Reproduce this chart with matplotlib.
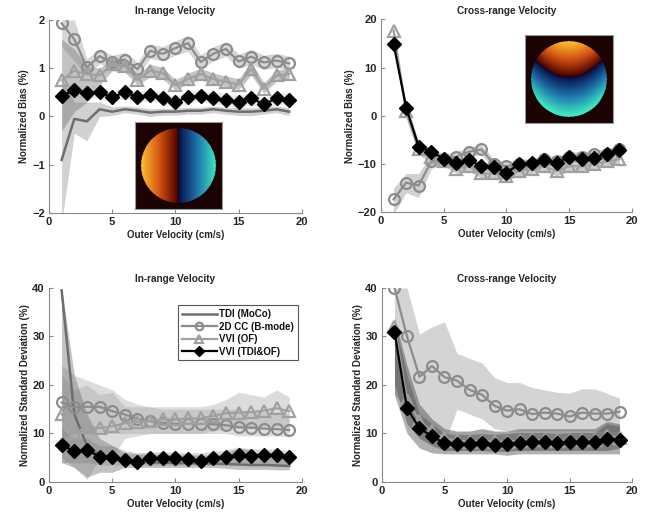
import matplotlib.pyplot as plt
import numpy as np
from matplotlib.colors import LinearSegmentedColormap

plt.rcParams['font.family'] = ['Liberation Sans', 'DejaVu Sans']
plt.rcParams['font.weight'] = 'bold'

x = list(range(1, 20))

# --- in-range bias
ir_bias_tdi = [-0.9, -0.05, -0.1, 0.15, 0.1, 0.15, 0.12, 0.08, 0.1, 0.1, 0.12, 0.12, 0.15, 0.12, 0.1, 0.1, 0.12, 0.15, 0.1]
ir_bias_tdi_lo = [-2.2, -0.35, -0.5, 0.0, 0.02, 0.08, 0.05, 0.0, 0.03, 0.03, 0.05, 0.05, 0.08, 0.05, 0.02, 0.02, 0.05, 0.08, 0.02]
ir_bias_tdi_hi = [0.8, 0.3, 0.3, 0.3, 0.2, 0.22, 0.2, 0.16, 0.17, 0.17, 0.19, 0.19, 0.22, 0.19, 0.18, 0.18, 0.19, 0.22, 0.18]
ir_bias_cc = [1.93, 1.6, 1.02, 1.25, 1.12, 1.18, 0.98, 1.36, 1.3, 1.42, 1.52, 1.13, 1.3, 1.4, 1.14, 1.24, 1.12, 1.16, 1.1]
ir_bias_cc_lo = [1.45, 1.15, 0.85, 1.1, 0.97, 1.03, 0.83, 1.2, 1.15, 1.27, 1.35, 0.98, 1.15, 1.25, 0.99, 1.09, 0.97, 1.01, 0.95]
ir_bias_cc_hi = [2.0, 2.0, 1.2, 1.4, 1.27, 1.33, 1.13, 1.5, 1.45, 1.57, 1.68, 1.28, 1.45, 1.55, 1.29, 1.39, 1.27, 1.31, 1.25]
ir_bias_of = [0.75, 0.95, 0.88, 0.85, 1.08, 1.05, 0.76, 0.95, 0.9, 0.65, 0.78, 0.88, 0.78, 0.72, 0.66, 0.99, 0.58, 0.85, 0.88]
ir_bias_of_lo = [-0.3, 0.1, 0.3, 0.65, 0.95, 0.92, 0.65, 0.82, 0.78, 0.55, 0.68, 0.76, 0.66, 0.62, 0.56, 0.86, 0.48, 0.74, 0.76]
ir_bias_of_hi = [1.6, 1.4, 1.05, 1.0, 1.2, 1.18, 0.88, 1.08, 1.02, 0.76, 0.9, 1.0, 0.9, 0.84, 0.78, 1.12, 0.7, 0.96, 1.0]
ir_bias_vvi = [0.42, 0.55, 0.48, 0.5, 0.4, 0.5, 0.4, 0.45, 0.38, 0.3, 0.4, 0.43, 0.38, 0.35, 0.3, 0.38, 0.25, 0.38, 0.35]
ir_bias_vvi_lo = [0.3, 0.43, 0.36, 0.38, 0.28, 0.38, 0.28, 0.33, 0.26, 0.18, 0.28, 0.31, 0.26, 0.23, 0.18, 0.26, 0.13, 0.26, 0.23]
ir_bias_vvi_hi = [0.55, 0.67, 0.6, 0.62, 0.52, 0.62, 0.52, 0.57, 0.5, 0.42, 0.52, 0.55, 0.5, 0.47, 0.42, 0.5, 0.37, 0.5, 0.47]

# --- cross-range bias
cr_bias_cc = [-17.4, -13.9, -14.5, -9.5, -9.0, -8.5, -7.5, -7.0, -10.0, -10.5, -10.0, -10.0, -9.0, -9.5, -8.5, -8.5, -8.0, -8.0, -7.0]
cr_bias_cc_lo = [-20.5, -16.0, -17.0, -11.0, -10.0, -9.5, -8.5, -8.0, -11.0, -11.5, -11.0, -11.0, -10.0, -10.5, -9.5, -9.5, -9.0, -9.0, -8.0]
cr_bias_cc_hi = [-15.0, -12.0, -12.0, -8.0, -8.0, -7.5, -6.5, -6.0, -9.0, -9.5, -9.0, -9.0, -8.0, -8.5, -7.5, -7.5, -7.0, -7.0, -6.0]
cr_bias_of = [17.7, 0.9, -7.0, -8.5, -9.5, -11.0, -10.5, -12.0, -12.0, -12.5, -11.5, -11.0, -10.5, -11.5, -10.5, -10.5, -10.0, -9.5, -9.0]
cr_bias_of_lo = [16.5, -0.5, -8.2, -9.5, -10.5, -12.0, -11.5, -13.0, -13.0, -13.5, -12.5, -12.0, -11.5, -12.5, -11.5, -11.5, -11.0, -10.5, -10.0]
cr_bias_of_hi = [18.8, 2.2, -5.5, -7.5, -8.5, -10.0, -9.5, -11.0, -11.0, -11.5, -10.5, -10.0, -9.5, -10.5, -9.5, -9.5, -9.0, -8.5, -8.0]
cr_bias_vvi = [15.0, 1.7, -6.4, -7.5, -8.9, -9.9, -9.3, -10.4, -10.7, -11.8, -10.1, -9.9, -9.3, -9.8, -8.6, -8.9, -8.8, -7.9, -7.1]
cr_bias_vvi_lo = [14.0, 0.7, -7.2, -8.3, -9.7, -10.7, -10.1, -11.2, -11.5, -12.6, -10.9, -10.7, -10.1, -10.6, -9.4, -9.7, -9.6, -8.7, -7.9]
cr_bias_vvi_hi = [16.0, 2.7, -5.6, -6.7, -8.1, -9.1, -8.5, -9.6, -9.9, -11.0, -9.3, -9.1, -8.5, -9.0, -7.8, -8.1, -8.0, -7.1, -6.3]

# --- in-range standard deviation
ir_std_tdi = [39.5, 14.0, 7.5, 5.5, 4.8, 4.3, 4.2, 4.0, 4.0, 3.9, 3.9, 3.8, 3.8, 3.7, 3.6, 3.5, 3.5, 3.4, 3.3]
ir_std_tdi_lo = [4.0, 3.0, 1.0, 2.0, 2.0, 3.0, 3.0, 3.0, 3.0, 3.0, 3.0, 3.0, 3.0, 2.8, 2.6, 2.6, 2.6, 2.5, 2.5]
ir_std_tdi_hi = [40.0, 22.0, 14.0, 9.0, 7.5, 6.0, 5.8, 5.7, 5.7, 5.6, 5.6, 5.5, 5.5, 6.0, 7.0, 6.5, 5.5, 5.5, 5.4]
ir_std_cc = [16.4, 15.4, 15.5, 15.5, 14.6, 13.9, 13.0, 12.5, 12.2, 12.0, 12.0, 12.0, 11.9, 11.7, 11.3, 11.2, 11.0, 10.9, 10.7]
ir_std_cc_lo = [9.0, 10.0, 10.0, 10.0, 10.0, 10.0, 10.0, 10.0, 10.0, 10.0, 10.0, 10.0, 10.0, 10.0, 9.5, 9.5, 9.5, 9.5, 9.3]
ir_std_cc_hi = [24.0, 22.0, 21.0, 20.0, 19.0, 17.0, 16.0, 15.5, 15.0, 15.0, 15.0, 15.0, 15.0, 15.0, 15.0, 14.5, 14.5, 14.5, 14.0]
ir_std_of = [14.0, 10.0, 11.4, 11.1, 11.5, 12.1, 12.4, 12.6, 12.9, 12.9, 13.1, 13.1, 13.6, 14.2, 14.3, 14.4, 14.7, 15.2, 14.6]
ir_std_of_lo = [5.0, 3.0, 0.5, 5.0, 5.0, 9.0, 9.5, 10.0, 10.0, 10.0, 10.0, 10.0, 10.5, 11.0, 11.0, 11.0, 11.5, 11.5, 11.0]
ir_std_of_hi = [22.0, 19.0, 20.0, 18.0, 18.5, 15.5, 15.5, 15.5, 15.5, 15.5, 15.5, 15.5, 16.0, 17.0, 18.5, 18.0, 17.5, 19.0, 17.5]
ir_std_vvi = [7.7, 6.3, 6.6, 5.2, 5.2, 4.5, 4.2, 4.9, 4.9, 4.9, 4.7, 4.4, 4.9, 5.2, 5.6, 5.4, 5.6, 5.6, 5.1]
ir_std_vvi_lo = [4.0, 4.0, 4.0, 3.5, 3.5, 3.5, 3.5, 3.5, 3.5, 3.5, 3.5, 3.5, 3.5, 3.5, 3.5, 3.5, 3.5, 3.5, 3.5]
ir_std_vvi_hi = [11.0, 9.0, 9.0, 7.5, 7.5, 6.5, 6.0, 6.2, 6.2, 6.2, 6.0, 6.0, 6.3, 6.6, 7.2, 6.8, 6.8, 6.8, 6.4]

# --- cross-range standard deviation
cr_std_cc = [40.0, 30.0, 21.7, 23.9, 21.6, 20.9, 19.0, 18.0, 15.7, 14.7, 15.0, 14.0, 14.3, 14.1, 13.5, 14.3, 14.1, 14.1, 14.5]
cr_std_cc_lo = [18.0, 15.0, 13.0, 11.0, 8.0, 15.0, 14.0, 13.0, 11.0, 10.5, 10.5, 10.5, 10.5, 10.5, 10.5, 10.5, 10.5, 10.5, 10.5]
cr_std_cc_hi = [40.0, 40.0, 30.5, 32.0, 33.0, 26.5, 25.5, 24.5, 21.5, 20.5, 20.5, 19.5, 19.0, 18.5, 18.3, 19.2, 19.2, 18.3, 17.3]
cr_std_of = [32.0, 17.0, 12.5, 10.5, 9.0, 8.5, 8.3, 8.5, 8.3, 8.3, 8.5, 8.6, 8.6, 8.5, 8.6, 8.6, 8.6, 9.5, 9.0]
cr_std_of_lo = [20.0, 12.0, 9.0, 7.5, 6.5, 6.5, 6.5, 6.5, 6.3, 6.3, 6.5, 6.5, 6.5, 6.5, 6.5, 6.5, 6.5, 6.5, 7.0]
cr_std_of_hi = [34.0, 24.0, 16.0, 13.0, 11.0, 10.5, 10.5, 11.0, 10.5, 10.5, 11.0, 11.0, 11.0, 11.0, 11.0, 11.0, 11.0, 12.5, 12.0]
cr_std_vvi = [31.0, 15.2, 11.1, 9.4, 8.0, 7.8, 7.8, 8.0, 7.7, 7.8, 8.1, 8.2, 8.2, 8.0, 8.2, 8.2, 8.2, 8.8, 8.7]
cr_std_vvi_lo = [18.0, 10.0, 7.0, 6.0, 5.8, 5.8, 5.8, 5.8, 5.8, 5.5, 5.8, 5.8, 5.8, 5.8, 5.8, 5.8, 5.8, 5.8, 5.8]
cr_std_vvi_hi = [33.0, 22.0, 14.0, 12.0, 10.0, 9.8, 9.8, 10.0, 9.8, 10.0, 10.2, 10.2, 10.2, 10.0, 10.2, 10.2, 10.2, 12.0, 11.5]

labels = ['TDI (MoCo)', '2D CC (B-mode)', 'VVI (OF)', 'VVI (TDI&OF)']
c_tdi = '#6e6e6e'
c_cc = '#8c8c8c'
c_of = '#a0a0a0'
c_vvi = '#000000'
txt = '#262626'


def style(ax, ylim, yticks, ylabel, title):
    ax.set_xlim(0, 20)
    ax.set_ylim(*ylim)
    ax.set_xticks([0, 5, 10, 15, 20])
    ax.set_yticks(yticks)
    ax.spines['top'].set_visible(False)
    ax.spines['right'].set_visible(False)
    for s in ['left', 'bottom']:
        ax.spines[s].set_color('#8a8a8a')
        ax.spines[s].set_linewidth(0.8)
    ax.tick_params(direction='in', length=3, width=0.8, color='#8a8a8a',
                   labelsize=8, labelcolor=txt, pad=3)
    for lab in ax.get_xticklabels() + ax.get_yticklabels():
        lab.set_fontweight('bold')
    ax.set_xlabel('Outer Velocity (cm/s)', fontsize=7, fontweight='bold', color=txt, labelpad=2)
    ax.set_ylabel(ylabel, fontsize=7, fontweight='bold', color=txt, labelpad=2)
    ax.set_title(title, fontsize=7.2, fontweight='bold', color=txt, pad=4)


def band(ax, lo, hi, color, a):
    ax.fill_between(x, lo, hi, color=color, alpha=a, linewidth=0, zorder=1)


def lines(ax, tdi, cc, of, vvi):
    if tdi is not None:
        ax.plot(x, tdi, color=c_tdi, lw=1.8, zorder=3, label=labels[0])
    ax.plot(x, cc, color=c_cc, lw=1.6, marker='o', ms=7.8, mfc='none', mew=1.6, zorder=4, label=labels[1])
    ax.plot(x, of, color=c_of, lw=1.6, marker='^', ms=8, mfc='none', mew=1.6, zorder=5, label=labels[2])
    ax.plot(x, vvi, color=c_vvi, lw=1.6, marker='D', ms=7.6, mfc=c_vvi, zorder=6, label=labels[3])


# inset colormap for the velocity maps
vmap = LinearSegmentedColormap.from_list('vel', [
    (0.0, '#3fe6c2'), (0.25, '#1e74aa'), (0.47, '#0b1a55'), (0.5, '#10081a'),
    (0.53, '#5a0800'), (0.75, '#d25212'), (1.0, '#ffc232')])
g = np.linspace(-1.15, 1.15, 200)
gx, gy = np.meshgrid(g, -g)
inside = gx ** 2 + gy ** 2 <= 1
img_in = np.where(inside, -gx, np.nan)
img_cr = np.where(inside, np.clip(gy - 0.05 - 0.58 * gx ** 2, -1, 1), np.nan)
for img in (img_in, img_cr):
    img[inside & (img > 0)] = np.clip(img[inside & (img > 0)] / np.nanmax(img), 0, 1)
    img[inside & (img < 0)] = np.clip(img[inside & (img < 0)] / -np.nanmin(img), -1, 0)


def inset(rect, data):
    ia = fig.add_axes(rect)
    ia.set_facecolor('#1c0303')
    ia.imshow(data, cmap=vmap, vmin=-1, vmax=1, extent=[-1.15, 1.15, -1.15, 1.15])
    ia.set_xticks([])
    ia.set_yticks([])
    for s in ia.spines.values():
        s.set_color('#9a9a9a')
        s.set_linewidth(0.8)


fig = plt.figure(figsize=(6.55, 5.21), dpi=100)
ax1 = fig.add_axes([0.0748, 0.5912, 0.386, 0.3704])
ax2 = fig.add_axes([0.5817, 0.5931, 0.383, 0.3695])
ax3 = fig.add_axes([0.0748, 0.0749, 0.386, 0.3724])
ax4 = fig.add_axes([0.5832, 0.0749, 0.3817, 0.3724])

# top left
band(ax1, ir_bias_tdi_lo, ir_bias_tdi_hi, '#9a9a9a', 0.45)
band(ax1, ir_bias_cc_lo, ir_bias_cc_hi, '#9a9a9a', 0.4)
band(ax1, ir_bias_of_lo, ir_bias_of_hi, '#7a7a7a', 0.45)
band(ax1, ir_bias_vvi_lo, ir_bias_vvi_hi, '#b0b0b0', 0.3)
lines(ax1, ir_bias_tdi, ir_bias_cc, ir_bias_of, ir_bias_vvi)
style(ax1, (-2, 2), [-2, -1, 0, 1, 2], 'Normalized Bias (%)', 'In-range Velocity')

# top right
band(ax2, cr_bias_cc_lo, cr_bias_cc_hi, '#9a9a9a', 0.45)
band(ax2, cr_bias_of_lo, cr_bias_of_hi, '#8a8a8a', 0.45)
band(ax2, cr_bias_vvi_lo, cr_bias_vvi_hi, '#555555', 0.4)
lines(ax2, None, cr_bias_cc, cr_bias_of, cr_bias_vvi)
style(ax2, (-20, 20), [-20, -10, 0, 10, 20], 'Normalized Bias (%)', 'Cross-range Velocity')

# bottom left
band(ax3, ir_std_cc_lo, ir_std_cc_hi, '#a8a8a8', 0.4)
band(ax3, ir_std_of_lo, ir_std_of_hi, '#a8a8a8', 0.4)
band(ax3, ir_std_tdi_lo, ir_std_tdi_hi, '#777777', 0.45)
band(ax3, ir_std_vvi_lo, ir_std_vvi_hi, '#808080', 0.35)
lines(ax3, ir_std_tdi, ir_std_cc, ir_std_of, ir_std_vvi)
style(ax3, (0, 40), [0, 10, 20, 30, 40], 'Normalized Standard Deviation (%)', 'In-range Velocity')
leg = ax3.legend(loc='upper right', bbox_to_anchor=(1.005, 0.935), fontsize=7, handlelength=3.6,
                 labelspacing=0.25, borderpad=0.4, handletextpad=0.3, fancybox=False,
                 framealpha=1, edgecolor='#555555', markerscale=0.7)
leg.get_frame().set_linewidth(0.8)
for t in leg.get_texts():
    t.set_color('#111111')
    t.set_fontweight('bold')

# bottom right
band(ax4, cr_std_cc_lo, cr_std_cc_hi, '#b8b8b8', 0.6)
band(ax4, cr_std_of_lo, cr_std_of_hi, '#6a6a6a', 0.6)
band(ax4, cr_std_vvi_lo, cr_std_vvi_hi, '#505050', 0.45)
lines(ax4, None, cr_std_cc, cr_std_of, cr_std_vvi)
style(ax4, (0, 40), [0, 10, 20, 30, 40], 'Normalized Standard Deviation (%)', 'Cross-range Velocity')

inset([0.2061, 0.5988, 0.1328, 0.1689], img_in)
inset([0.8015, 0.7639, 0.1344, 0.1689], img_cr)

plt.savefig('out.png', dpi=100)
